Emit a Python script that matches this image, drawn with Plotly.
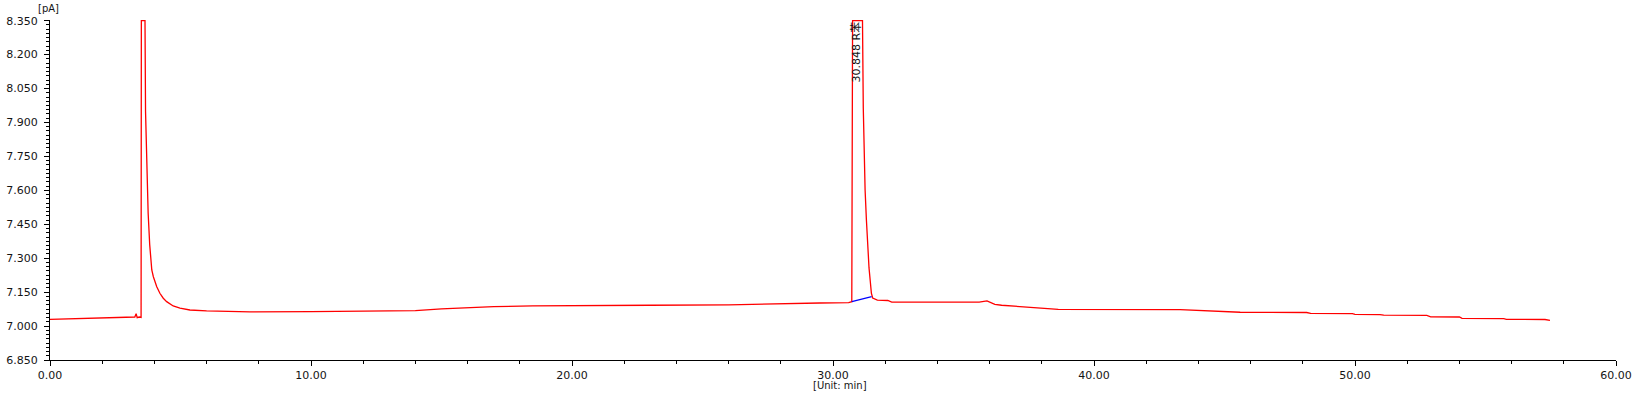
import plotly.graph_objects as go

# Chromatogram trace (time in min, signal in pA)
time_min = [0.00, 1.10, 1.90, 3.07, 3.25, 3.30, 3.34, 3.42, 3.47, 3.49, 3.50,
            3.64, 3.66, 3.70, 3.76, 3.82, 3.87, 3.90, 3.96, 4.09, 4.21, 4.34,
            4.47, 4.72, 4.98, 5.36, 6.00, 7.66, 10.0, 12.0, 14.0, 15.0, 16.0,
            17.0, 18.5, 20.0, 23.0, 26.0, 28.0, 29.5, 30.60, 30.72, 30.75,
            31.13, 31.16, 31.19, 31.23, 31.28, 31.33, 31.38, 31.43, 31.47,
            31.52, 31.70, 32.10, 32.25, 35.60, 35.90, 36.20, 36.46, 37.16,
            37.93, 38.63, 43.30, 44.64, 45.60, 48.15, 48.30, 49.90, 50.00,
            50.96, 51.10, 52.75, 52.90, 54.00, 54.10, 55.70, 55.80, 57.28, 57.47]
signal_pa = [7.030, 7.033, 7.034, 7.039, 7.040, 7.055, 7.037, 7.040, 7.036, 7.038, 8.350,
             8.350, 7.950, 7.700, 7.500, 7.360, 7.290, 7.248, 7.218, 7.174, 7.145, 7.123,
             7.108, 7.089, 7.079, 7.071, 7.067, 7.063, 7.064, 7.065, 7.068, 7.076, 7.082,
             7.086, 7.089, 7.091, 7.092, 7.094, 7.100, 7.102, 7.104, 7.108, 8.350,
             8.350, 7.964, 7.778, 7.602, 7.469, 7.351, 7.257, 7.196, 7.146,
             7.124, 7.115, 7.113, 7.106, 7.106, 7.111, 7.096, 7.092, 7.086,
             7.080, 7.074, 7.073, 7.067, 7.061, 7.060, 7.056, 7.055, 7.052,
             7.051, 7.048, 7.047, 7.041, 7.040, 7.034, 7.033, 7.030, 7.029, 7.025]

# Integration baseline of the labelled peak
baseline_t = [30.72, 31.48]
baseline_v = [7.108, 7.130]

peak_label_t = 30.88
peak_label_v = 8.214
peak_label = "30.848 R苯"

x_ticks = [0, 10, 20, 30, 40, 50, 60]
x_ticktext = ["0.00", "10.00", "20.00", "30.00", "40.00", "50.00", "60.00"]
y_ticks = [6.85, 7.0, 7.15, 7.3, 7.45, 7.6, 7.75, 7.9, 8.05, 8.2, 8.35]
y_ticktext = ["6.850", "7.000", "7.150", "7.300", "7.450", "7.600", "7.750",
              "7.900", "8.050", "8.200", "8.350"]

font_fam = "DejaVu Sans, Noto Sans CJK SC, sans-serif"
txt_col = "#141414"

fig = go.Figure()
fig.add_trace(go.Scatter(x=time_min, y=signal_pa, mode="lines",
                         line=dict(color="#ff0000", width=1.3), hoverinfo="skip"))
fig.add_trace(go.Scatter(x=baseline_t, y=baseline_v, mode="lines",
                         line=dict(color="#0000ff", width=1.3), hoverinfo="skip"))

fig.add_annotation(x=peak_label_t, y=peak_label_v, text=peak_label, textangle=-90,
                   showarrow=False, font=dict(family=font_fam, size=11, color=txt_col))
fig.add_annotation(xref="paper", yref="paper", x=0, y=1, xshift=-2, yshift=12,
                   xanchor="center", yanchor="middle",
                   text="[pA]", showarrow=False,
                   font=dict(family=font_fam, size=10, color=txt_col))
fig.add_annotation(xref="paper", yref="paper", x=0.5045, y=0, yshift=-25,
                   xanchor="center", yanchor="middle",
                   text="[Unit: min]", showarrow=False,
                   font=dict(family=font_fam, size=10, color=txt_col))

fig.update_layout(
    width=1636, height=395,
    margin=dict(l=50, r=20, t=20, b=35, autoexpand=False),
    paper_bgcolor="white", plot_bgcolor="white",
    showlegend=False,
    font=dict(family=font_fam, size=11, color=txt_col),
)
fig.update_xaxes(range=[0, 60], tickvals=x_ticks, ticktext=x_ticktext,
                 automargin=False,
                 showgrid=False, zeroline=False, showline=True, linecolor="black",
                 linewidth=1, ticks="outside", ticklen=5, tickcolor="black",
                 minor=dict(dtick=2, tick0=0, ticks="outside", ticklen=3,
                            tickcolor="black", showgrid=False),
                 tickfont=dict(family=font_fam, size=11, color=txt_col))
fig.update_yaxes(range=[6.85, 8.353], tickvals=y_ticks, ticktext=y_ticktext,
                 automargin=False,
                 showgrid=False, zeroline=False, showline=True, linecolor="black",
                 linewidth=1, ticks="outside", ticklen=5, tickcolor="black",
                 ticklabelstandoff=4,
                 minor=dict(dtick=0.01875, tick0=6.85, ticks="outside", ticklen=3,
                            tickcolor="black", showgrid=False),
                 tickfont=dict(family=font_fam, size=11, color=txt_col))

fig.write_html("out.html")
